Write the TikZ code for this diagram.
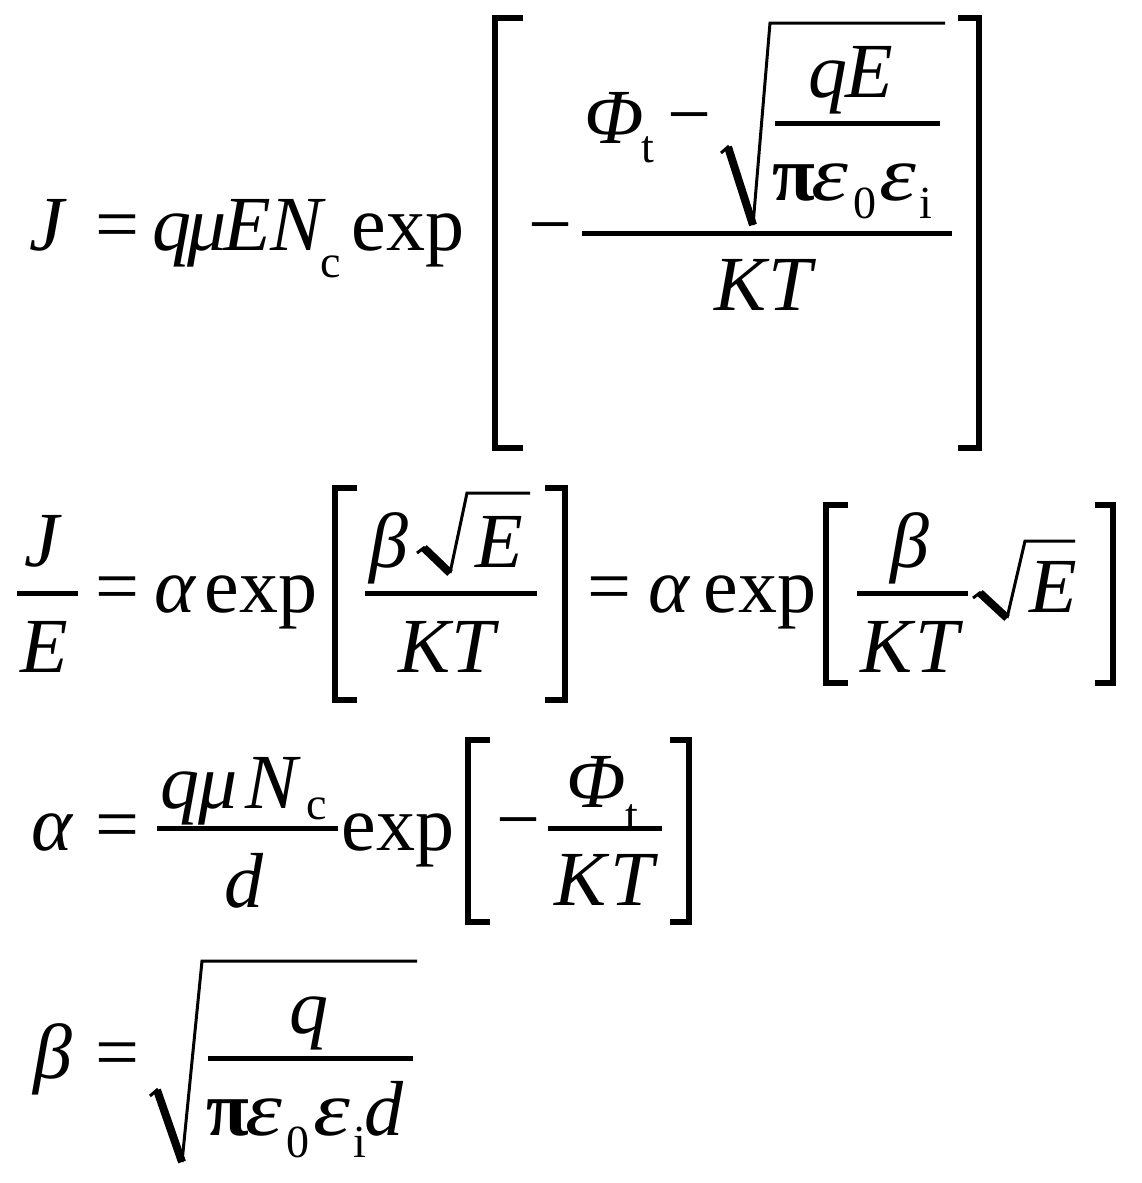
\documentclass[tikz,border=0pt]{standalone}
\usepackage{fontspec}
\setmainfont{Liberation Serif}
\newcommand{\wideeps}{\scalebox{1.2}[1]{ε}}
\begin{document}
\begin{tikzpicture}[x=1pt, y=-1pt,
  m/.style={inner sep=0pt, anchor=base, font=\fontsize{78}{78}\selectfont},
  mi/.style={inner sep=0pt, anchor=base, font=\fontsize{78}{78}\selectfont\itshape},
  sb/.style={inner sep=0pt, anchor=base, font=\fontsize{46}{46}\selectfont},
  bar/.style={line width=5pt},
  brk/.style={line width=6.5pt},
  radthin/.style={line width=3pt},
  radheavy/.style={line width=8pt}]

\useasboundingbox (0,0) rectangle (1141,1183);

% J = q mu E N_c exp[ ... ]
\node[mi] (J1) at (47,250) {J};
\node[m] (eqa) at (117,250) {=};
\node[mi] (q1) at (172,250) {q};
\node[mi] (mu1) at (207,250) {μ};
\node[mi] (E1) at (247,250) {E};
\node[mi] (N1) at (297,250) {N};
\node[sb] (c1) at (331,277) {c};
\node[m] (exp1) at (408,250) {exp};
\draw[brk] (523,18) -- (495,18) -- (495,448) -- (523,448);
\node[m] (mina) at (550,250) {−};
\draw[bar] (582,233) -- (952,233);
\node[mi] (Phi1) at (614,143) {Φ};
\node[sb] (t1) at (648,162) {t};
\node[m] (minb) at (689,140) {−};
\draw[radthin] (721,153) -- (729,146);
\draw[radheavy] (728,147) -- (753,225);
\draw[radthin] (753,225) -- (770,23) -- (945,23);
\node[mi] (q2) at (828,97) {q};
\node[mi] (E2) at (869,97) {E};
\draw[bar] (775,123) -- (940,123);
\node[m] (pi1) at (794,200) {\bfseries π};
\node[mi] (eps1) at (830,200) {\wideeps};
\node[sb] (zero1) at (865,218) {0};
\node[mi] (eps2) at (898,200) {\wideeps};
\node[sb] (i1) at (926,218) {i};
\node[mi] (K1) at (741,310) {K};
\node[mi] (T1) at (790,310) {T};
\draw[brk] (958,18) -- (979,18) -- (979,448) -- (958,448);


% J/E = alpha exp[...] = alpha exp[...]
\node[mi] (J2) at (42,566) {J};
\draw[bar] (17,593) -- (78,593);
\node[mi] (E3) at (44,672) {E};
\node[m] (eqb) at (117,612) {=};
\node[mi] (al1) at (175,612) {α};
\node[m] (exp2) at (261,612) {exp};
\draw[brk] (357,488) -- (335,488) -- (335,700) -- (357,700);
\node[mi] (be1) at (389,567) {β};
\draw[radthin] (417,553) -- (425,547);
\draw[radheavy] (424,548) -- (450,573);
\draw[radthin] (450,573) -- (467,493) -- (530,493);
\node[mi] (E4) at (499,567) {E};
\draw[bar] (365,593) -- (537,593);
\node[mi] (K2) at (425,672) {K};
\node[mi] (T2) at (473,672) {T};
\draw[brk] (545,488) -- (565,488) -- (565,700) -- (545,700);
\node[m] (eqc) at (609,612) {=};
\node[mi] (al2) at (669,612) {α};
\node[m] (exp3) at (760,612) {exp};
\draw[brk] (848,505) -- (826,505) -- (826,683) -- (848,683);
\node[mi] (be2) at (910,567) {β};
\draw[bar] (857,593) -- (968,593);
\node[mi] (K3) at (887,672) {K};
\node[mi] (T3) at (937,672) {T};
\draw[radthin] (973,598) -- (981,592);
\draw[radheavy] (980,593) -- (1007,618);
\draw[radthin] (1007,618) -- (1025,541) -- (1075,541);
\node[mi] (E5) at (1053,612) {E};
\draw[brk] (1095,505) -- (1113,505) -- (1113,683) -- (1095,683);


% alpha = q mu N_c / d exp[-Phi_t/KT]
\node[mi] (al3) at (52,850) {α};
\node[m] (eqd) at (117,850) {=};
\draw[bar] (157,828) -- (338,828);
\node[mi] (q3) at (180,808) {q};
\node[mi] (mu2) at (218,808) {μ};
\node[mi] (N2) at (272,808) {N};
\node[sb] (c2) at (317,819) {c};
\node[mi] (d1) at (244,907) {d};
\node[m] (exp4) at (398,850) {exp};
\draw[brk] (490,740) -- (468,740) -- (468,922) -- (490,922);
\node[m] (minc) at (518,845) {−};
\draw[bar] (548,828) -- (662,828);
\node[mi] (Phi2) at (596,807) {Φ};
\node[sb] (t2) at (632,830) {t};
\node[mi] (K4) at (581,905) {K};
\node[mi] (T4) at (632,905) {T};
\draw[brk] (670,740) -- (689,740) -- (689,922) -- (670,922);


% beta = sqrt(q / pi eps0 epsi d)
\node[mi] (be3) at (53,1078) {β};
\node[m] (eqe) at (117,1078) {=};
\draw[radthin] (150,1096) -- (158,1089);
\draw[radheavy] (157,1090) -- (182,1162);
\draw[radthin] (182,1162) -- (202,961) -- (417,961);
\draw[bar] (208,1058) -- (413,1058);
\node[mi] (q4) at (309,1033) {q};
\node[m] (pi2) at (228,1135) {\bfseries π};
\node[mi] (eps3) at (264,1135) {\wideeps};
\node[sb] (zero2) at (298,1157) {0};
\node[mi] (eps4) at (332,1135) {\wideeps};
\node[sb] (i2) at (360,1157) {i};
\node[mi] (d2) at (384,1135) {d};

\end{tikzpicture}
\end{document}
